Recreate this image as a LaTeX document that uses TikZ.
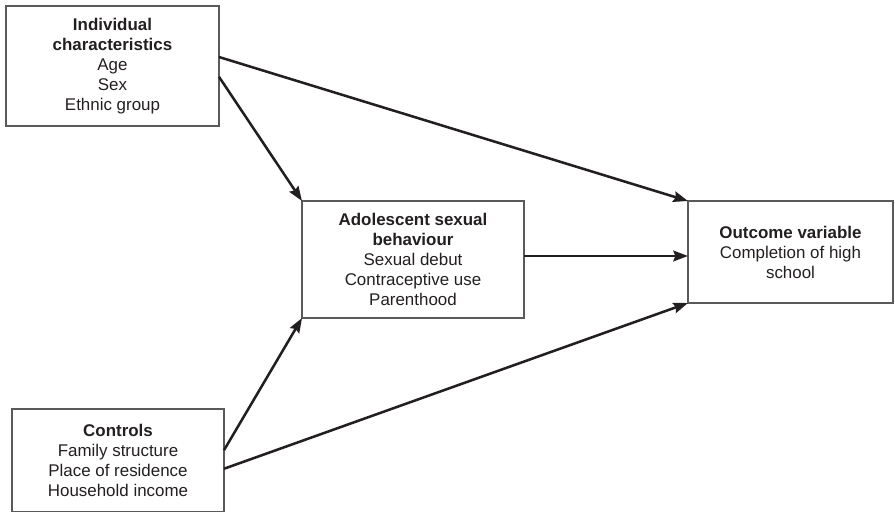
\documentclass[tikz,border=0pt]{standalone}
\usepackage{fontspec}
\setmainfont{Liberation Sans}
\usetikzlibrary{arrows.meta,calc}
\definecolor{ink}{HTML}{231F20}
\definecolor{edge}{HTML}{5A5A5A}
\tikzset{
  box/.style={draw=edge, line width=0.8pt, rectangle, inner sep=0pt, outer sep=0pt,
    align=center, text=ink, font=\fontsize{12.7pt}{15pt}\selectfont},
  conn/.style={draw=ink, line width=1.9pt, -{Stealth[length=11pt,width=8pt,inset=1.5pt]}}
}
\begin{document}
\begin{tikzpicture}[x=0.75pt,y=-0.75pt]
\useasboundingbox (0,0) rectangle (895,511);
\node[box, minimum width=159.75pt, minimum height=90pt] (b1) at (112.5,66)
  {\textbf{Individual}\\\textbf{characteristics}\\Age\\Sex\\Ethnic group};
\node[box, minimum width=166.5pt, minimum height=87.75pt] (b2) at (413,259.5)
  {\textbf{Adolescent sexual}\\\textbf{behaviour}\\Sexual debut\\Contraceptive use\\Parenthood};
\node[box, minimum width=153.75pt, minimum height=76.5pt] (b3) at (790.5,252)
  {\textbf{Outcome variable}\\Completion of high\\school};
\node[box, minimum width=159pt, minimum height=77.25pt] (b4) at (118,460.5)
  {\textbf{Controls}\\Family structure\\Place of residence\\Household income};
\coordinate (mid) at ($(b2.north east)!0.47!(b2.south east)$);
\draw[conn] ($(b1.north east)!0.425!(b1.south east)$) -- (b3.north west);
\draw[conn] ($(b1.north east)!0.59!(b1.south east)$) -- (b2.north west);
\draw[conn] (mid) -- (mid -| b3.west);
\draw[conn] ($(b4.north east)!0.40!(b4.south east)$) -- (b2.south west);
\draw[conn] ($(b4.north east)!0.58!(b4.south east)$) -- (b3.south west);
\end{tikzpicture}
\end{document}
